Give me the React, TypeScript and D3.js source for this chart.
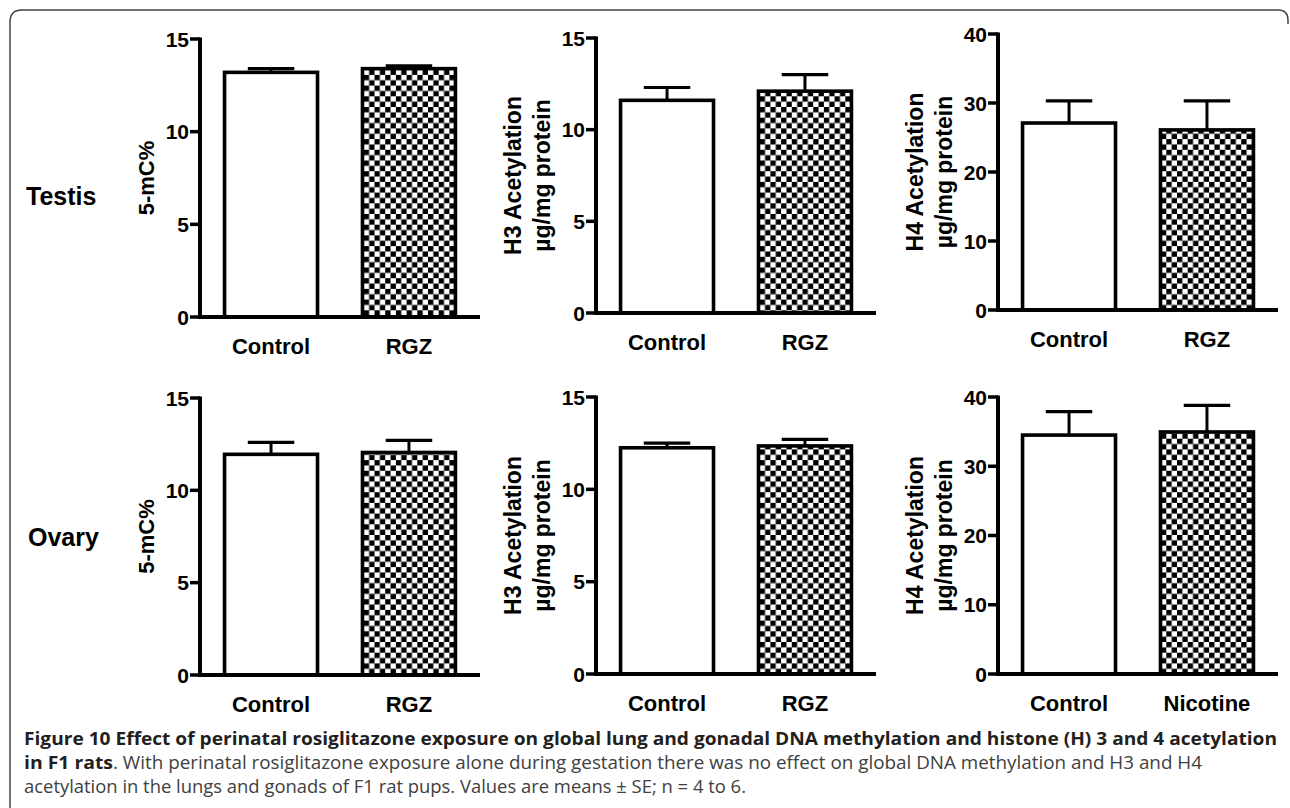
import React from "react";
import * as d3 from "d3";

// ---------- data ----------
const rowLabels = ["Testis", "Ovary"];
const yTitles = [["5-mC%"], ["H3 Acetylation", "µg/mg protein"], ["H4 Acetylation", "µg/mg protein"]];
const yMax = [15, 15, 40];
const yTicks = [[0, 5, 10, 15], [0, 5, 10, 15], [0, 10, 20, 30, 40]];
const categories = [
  [["Control", "RGZ"], ["Control", "RGZ"], ["Control", "RGZ"]],
  [["Control", "RGZ"], ["Control", "RGZ"], ["Control", "Nicotine"]],
];
// means and SE (panel x group)
const testisMeans = [[13.2, 13.4], [11.6, 12.1], [27.1, 26.1]];
const testisSE = [[0.2, 0.15], [0.7, 0.9], [3.2, 4.2]];
const ovaryMeans = [[11.95, 12.05], [12.25, 12.35], [34.5, 34.95]];
const ovarySE = [[0.65, 0.65], [0.25, 0.35], [3.4, 3.85]];
const captionBold1 = "Figure 10 Effect of perinatal rosiglitazone exposure on global lung and gonadal DNA methylation and histone (H) 3 and 4 acetylation";
const captionBold2 = "in F1 rats";
const captionRest2 = ". With perinatal rosiglitazone exposure alone during gestation there was no effect on global DNA methylation and H3 and H4";
const captionLine3 = "acetylation in the lungs and gonads of F1 rat pups. Values are means ± SE; n = 4 to 6.";

// ---------- layout ----------
const W = 1290, H = 808;
const AXIS_X = [200, 596, 998];
const AXIS_LEN = 280;
const ROW_Y = [
  [[39, 317], [38, 313], [34, 310]],
  [[398, 675], [397, 674], [397, 674]],
];
const ROW_LABEL_POS = [[26, 205], [28, 546]];
const FONT = "'Liberation Sans', Arial, Helvetica, sans-serif";
const CAP_FONT = "'Open Sans', 'Noto Sans', sans-serif";

function Panel({ row, col }: { row: number; col: number }) {
  const means = row === 0 ? testisMeans[col] : ovaryMeans[col];
  const ses = row === 0 ? testisSE[col] : ovarySE[col];
  const cats = categories[row][col];
  const [yT, y0] = ROW_Y[row][col];
  const ax = AXIS_X[col];
  const x = d3.scaleBand<string>().domain(cats).range([ax, ax + AXIS_LEN]).paddingInner(0.326).paddingOuter(0.178);
  const y = d3.scaleLinear().domain([0, yMax[col]]).range([y0, yT]);
  const bw = x.bandwidth();
  const titles = yTitles[col];
  const midY = (yT + y0) / 2;
  return (
    <g>
      {cats.map((c, i) => {
        const bx = x(c)!;
        const top = y(means[i]);
        const cx = bx + bw / 2;
        const et = y(means[i] + ses[i]);
        return (
          <g key={c}>
            <line x1={cx} x2={cx} y1={top} y2={et} stroke="#000" strokeWidth={3} />
            <line x1={cx - bw / 4} x2={cx + bw / 4} y1={et} y2={et} stroke="#000" strokeWidth={3.2} />
            <rect x={bx} y={top} width={bw} height={y0 - top} fill={i === 0 ? "#fff" : "url(#checker)"} stroke="#000" strokeWidth={3.6} />
          </g>
        );
      })}
      <line x1={ax} x2={ax} y1={y0 + 2} y2={yT - 1.5} stroke="#000" strokeWidth={4} />
      <line x1={ax - 2} x2={ax + AXIS_LEN} y1={y0} y2={y0} stroke="#000" strokeWidth={4} />
      {yTicks[col].map((t) => (
        <g key={t}>
          <line x1={ax - 10} x2={ax} y1={y(t)} y2={y(t)} stroke="#000" strokeWidth={3.5} />
          <text x={ax - 11} y={y(t)} dy="0.36em" textAnchor="end" fontFamily={FONT} fontWeight="bold" fontSize={21}>{t}</text>
        </g>
      ))}
      {cats.map((c) => (
        <text key={c} x={x(c)! + bw / 2} y={y0 + 37} textAnchor="middle" fontFamily={FONT} fontWeight="bold" fontSize={22}>{c}</text>
      ))}
      {titles.map((t, i) => {
        const bx = titles.length === 1 ? ax - 46 : ax - 75 + i * 29;
        return (
          <text key={t} transform={`translate(${bx},${midY}) rotate(-90)`} textAnchor="middle" fontFamily={FONT} fontWeight="bold" fontSize={titles.length === 1 ? 22 : 23}>{t}</text>
        );
      })}
    </g>
  );
}

export default function App() {
  return (
    <svg width={W} height={H} style={{ position: "absolute", left: 0, top: 0, background: "#fff" }}>
      <defs>
        <pattern id="checker" patternUnits="userSpaceOnUse" width={10.7} height={10.7}>
          <rect width={10.7} height={10.7} fill="#fff" />
          <rect x={0} y={0} width={5.35} height={5.35} fill="#000" />
          <rect x={5.35} y={5.35} width={5.35} height={5.35} fill="#000" />
        </pattern>
      </defs>
      <rect width={W} height={H} fill="#fff" />
      <path d="M10,808 L10,22 Q10,10 22,10 L1278,10 Q1288,10 1288,20 L1288,24" fill="none" stroke="#444" strokeWidth={1.5} />
      {rowLabels.map((r, i) => (
        <text key={r} x={ROW_LABEL_POS[i][0]} y={ROW_LABEL_POS[i][1]} fontFamily={FONT} fontWeight="bold" fontSize={25}>{r}</text>
      ))}
      {[0, 1].map((row) => [0, 1, 2].map((col) => <Panel key={`${row}-${col}`} row={row} col={col} />))}
      <text x={24} y={745} fontFamily={CAP_FONT} fontWeight="bold" fontSize={17.5} fill="#231f20" textLength={1253} lengthAdjust="spacingAndGlyphs">{captionBold1}</text>
      <text x={24} y={769} fontFamily={CAP_FONT} fontWeight="bold" fontSize={17.5} fill="#231f20" textLength={89} lengthAdjust="spacingAndGlyphs">{captionBold2}</text>
      <text x={113} y={769} fontFamily={CAP_FONT} fontSize={17.5} fill="#404040" textLength={1089} lengthAdjust="spacingAndGlyphs">{captionRest2}</text>
      <text x={24} y={793} fontFamily={CAP_FONT} fontSize={17.5} fill="#404040" textLength={722} lengthAdjust="spacingAndGlyphs">{captionLine3}</text>
    </svg>
  );
}
